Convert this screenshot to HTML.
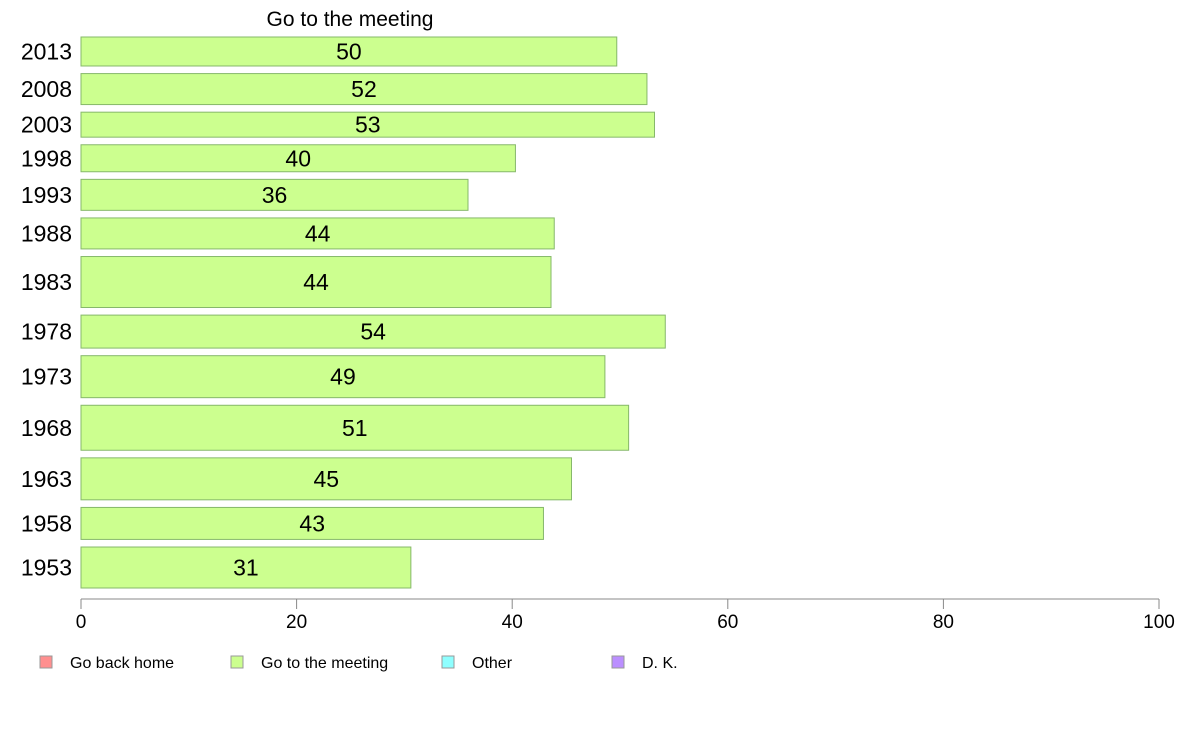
<!DOCTYPE html>
<html><head><meta charset="utf-8"><style>
body{margin:0;background:#fff}
svg{display:block;font-family:"Liberation Sans",Arial,sans-serif}
</style></head><body>
<svg id="c" width="1188" height="736">
<text x="350" y="26" text-anchor="middle" font-size="21">Go to the meeting</text>
</svg>
<script>
const years=["2013","2008","2003","1998","1993","1988","1983","1978","1973","1968","1963","1958","1953"];
const values=[49.7,52.5,53.2,40.3,35.9,43.9,43.6,54.2,48.6,50.8,45.5,42.9,30.6];
const labels=["50","52","53","40","36","44","44","54","49","51","45","43","31"];
const weights=[29,31,25,27,31,31,51,33,42,45,42,32,41];
const ticks=[0,20,40,60,80,100];
const legendNames=["Go back home","Go to the meeting","Other","D. K."];
const legendColors=["#ff8f8f","#ccff8f","#8fffff","#bb8fff"];
const svg=document.getElementById('c');const NS="http://www.w3.org/2000/svg";
function mk(t,a,p){const e=document.createElementNS(NS,t);for(const k in a)e.setAttribute(k,a[k]);(p||svg).appendChild(e);return e;}
const x0=81,x1=1159;const xs=v=>x0+(x1-x0)*v/100;
const yTop=37,yBot=588,gap=7.6;
const totalW=weights.reduce((a,b)=>a+b,0);
const scaleH=(yBot-yTop-gap*(years.length-1))/totalW;
let y=yTop;
years.forEach((yr,i)=>{
 const h=weights[i]*scaleH;
 const r=mk('rect',{x:x0,y:y,width:xs(values[i])-x0,height:h,fill:'#ccff8f',stroke:'#86b86a','stroke-width':1});
 
 
 const t=mk('text',{x:(x0+xs(values[i]))/2,y:y+h/2+8,'text-anchor':'middle','font-size':23});
 t.textContent=labels[i];
 
 
 const l=mk('text',{x:72,y:y+h/2+8,'text-anchor':'end','font-size':23});
 l.textContent=yr;
 
 
 y+=h+gap;
});
const ax=mk('line',{x1:x0,x2:x1,y1:599,y2:599,stroke:'#888'});


ticks.forEach(v=>{
 const tk=mk('line',{x1:xs(v),x2:xs(v),y1:599,y2:609,stroke:'#888'});
 
 
 const t=mk('text',{x:xs(v),y:628,'text-anchor':'middle','font-size':19});
 t.textContent=v;
 
 
});
const lx=[40,231,442,612];
legendNames.forEach((n,i)=>{
 const g=mk('g',{});
 
 
 mk('rect',{x:lx[i],y:656,width:12,height:12,fill:legendColors[i],stroke:'#999'},g);
 const t=mk('text',{x:lx[i]+30,y:668,'font-size':16},g);t.textContent=n;
});
</script>
</body></html>
